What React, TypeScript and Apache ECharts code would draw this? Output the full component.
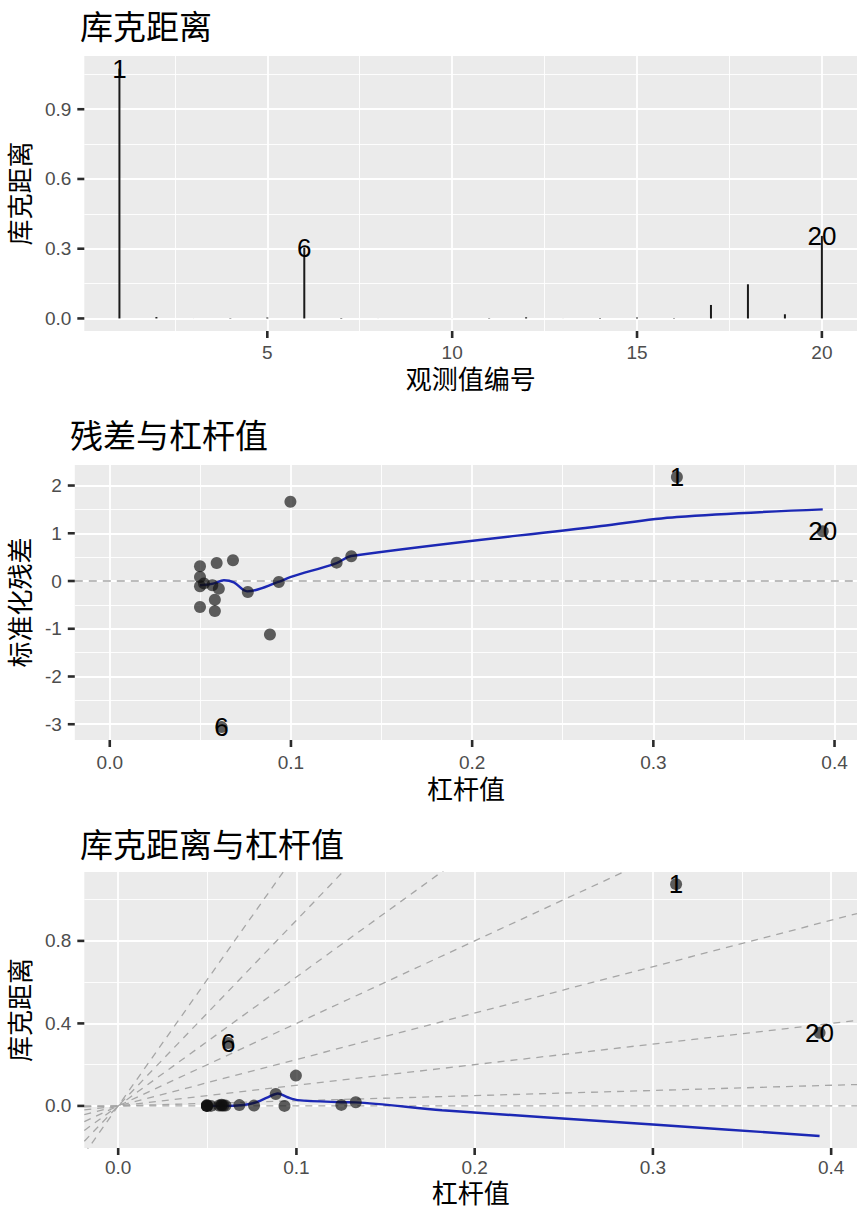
import React, { useEffect, useRef } from "react";
import * as echarts from "echarts";

// ---------- data ----------
const obsIds = [1, 2, 3, 4, 5, 6, 7, 8, 9, 10, 11, 12, 13, 14, 15, 16, 17, 18, 19, 20];
const cooksD = [1.075, 0.006, 0.0002, 0.0015, 0.004, 0.305, 0.002, 0.0002, 0.0001, 0.0002, 0.0015, 0.005, 0.0002, 0.002, 0.004, 0.0015, 0.058, 0.147, 0.018, 0.355];
const leverage = [0.313, 0.058, 0.0498, 0.0566, 0.0498, 0.0617, 0.059, 0.0498, 0.0933, 0.0498, 0.0602, 0.1252, 0.052, 0.058, 0.068, 0.0762, 0.0884, 0.0997, 0.1333, 0.3935];
const stdResid = [2.18, -0.63, 0.084, -0.09, -0.545, -3.06, 0.377, -0.11, -0.02, 0.308, -0.16, 0.385, -0.05, -0.39, 0.434, -0.23, -1.12, 1.66, 0.518, 1.04];
const labeledObs = [1, 6, 20];

// loess smoother of residuals vs leverage
const resSmoothX = [0.0498, 0.0571, 0.0630, 0.0685, 0.0758, 0.0931, 0.0996, 0.1252, 0.1333, 0.2713, 0.313, 0.3935];
const resSmoothY = [-0.09, -0.055, 0.015, -0.03, -0.216, -0.02, 0.08, 0.377, 0.524, 1.153, 1.34, 1.5];
// loess smoother of Cook's distance vs leverage
const cookSmoothX = [0.0498, 0.0607, 0.0687, 0.0765, 0.0835, 0.0896, 0.0950, 0.1007, 0.1252, 0.1333, 0.1817, 0.3, 0.3935];
const cookSmoothY = [0.0, 0.0, 0.003, 0.015, 0.04, 0.06, 0.042, 0.028, 0.018, 0.017, -0.021, -0.09, -0.146];
// Cook's contour slopes (dashed reference lines through origin)
const contourSlopes = [0, 0.25, 1, 2.25, 4, 6.25, 9, 12.25];

// tick labels
const p1XTicks = [5, 10, 15, 20];
const p1XMinor = [2.5, 7.5, 12.5, 17.5];
const p1YTicks = [0, 0.3, 0.6, 0.9];
const p1YMinor = [0.15, 0.45, 0.75, 1.05];
const levTicks = [0, 0.1, 0.2, 0.3, 0.4];
const levMinor = [0.05, 0.15, 0.25, 0.35];
const p2YTicks = [-3, -2, -1, 0, 1, 2];
const p2YMinor = [-2.5, -1.5, -0.5, 0.5, 1.5];
const p3YTicks = [0, 0.4, 0.8];
const p3YMinor = [0.2, 0.6, 1.0];

const FONT = '"Liberation Sans", "Noto Sans CJK SC", sans-serif';

function gridLines(gi: number, xMajor: number[], xMinor: number[], yMajor: number[], yMinor: number[], anchor: number[]) {
  const mk = (vals: number[], key: string, width: number) =>
    vals.map((v) => ({ [key]: v, lineStyle: { width, color: "#ffffff", type: "solid" } }));
  return {
    type: "line",
    xAxisIndex: gi,
    yAxisIndex: gi,
    data: [anchor],
    symbol: "none",
    lineStyle: { opacity: 0 },
    silent: true,
    z: 1,
    markLine: {
      z: 1,
      silent: true,
      symbol: ["none", "none"],
      label: { show: false },
      emphasis: { disabled: true },
      data: [
        ...mk(xMinor, "xAxis", 0.9),
        ...mk(yMinor, "yAxis", 0.9),
        ...mk(xMajor, "xAxis", 1.8),
        ...mk(yMajor, "yAxis", 1.8),
      ],
    },
  };
}

function xAxisCfg(gi: number, min: number, max: number, ticks: number[], fmt: (v: number) => string, name: string, nameGap: number, margin: number) {
  return {
    type: "value",
    gridIndex: gi,
    min,
    max,
    splitLine: { show: false },
    axisLine: { show: false },
    axisTick: { show: false },
    axisLabel: { customValues: ticks, formatter: fmt, color: "#4D4D4D", fontSize: 19, fontFamily: FONT, margin },
    name,
    nameLocation: "middle",
    nameGap,
    nameTextStyle: { fontSize: 26, color: "#000000", fontFamily: FONT },
  };
}

function yAxisCfg(gi: number, min: number, max: number, ticks: number[], fmt: (v: number) => string, name: string, nameGap: number) {
  return {
    type: "value",
    gridIndex: gi,
    min,
    max,
    splitLine: { show: false },
    axisLine: { show: false },
    axisTick: { show: false },
    axisLabel: { customValues: ticks, formatter: fmt, color: "#4D4D4D", fontSize: 19, fontFamily: FONT, margin: 13 },
    name,
    nameLocation: "middle",
    nameGap,
    nameTextStyle: { fontSize: 26, color: "#000000", fontFamily: FONT },
  };
}

const pointStyle = { color: "rgba(15,15,15,0.82)" };
const labelText = {
  show: true,
  position: "inside",
  formatter: "{b}",
  fontSize: 26,
  color: "#000000",
  opacity: 1,
  textBorderWidth: 0,
  fontFamily: FONT,
};
const blue = "#1c28b4";

export default function App() {
  const ref = useRef<HTMLDivElement>(null);

  useEffect(() => {
    document.body.style.margin = "0";
    if (!ref.current) return;
    const chart = echarts.init(ref.current, null, { renderer: "svg" });

    const x1 = [0.05, 20.95];
    const y1 = [-0.054, 1.129];
    const x2 = [-0.0193, 0.4124];
    const y2 = [-3.33, 2.43];
    const x3 = [-0.019, 0.4145];
    const y3 = [-0.204, 1.134];

    const fmt1 = (v: number) => v.toFixed(1);
    const fmt0 = (v: number) => String(Math.round(v));

    const titleStyle = { fontSize: 33, fontWeight: "normal", color: "#000000", fontFamily: FONT };

    const points2 = obsIds.map((id, i) => [leverage[i], stdResid[i]]);
    const points3 = obsIds.map((id, i) => [leverage[i], cooksD[i]]);
    const labels1 = labeledObs.map((id) => ({ name: String(id), value: [id, cooksD[id - 1]] }));
    const labels2 = labeledObs.map((id) => ({ name: String(id), value: [leverage[id - 1], stdResid[id - 1]] }));
    const labels3 = labeledObs.map((id) => ({ name: String(id), value: [leverage[id - 1], cooksD[id - 1]] }));

    const contourSeries = contourSlopes.map((s) => ({
      type: "line",
      xAxisIndex: 2,
      yAxisIndex: 2,
      data: [
        [x3[0], s * x3[0]],
        [x3[1], s * x3[1]],
      ],
      symbol: "none",
      silent: true,
      clip: true,
      lineStyle: { color: "#a6a6a6", width: 1.3, type: [7, 6] },
      z: 2,
    }));

    chart.setOption({
      animation: false,
      backgroundColor: "#ffffff",
      title: [
        { text: "库克距离", left: 80, top: 11, padding: 0, textStyle: titleStyle },
        { text: "残差与杠杆值", left: 70, top: 420, padding: 0, textStyle: titleStyle },
        { text: "库克距离与杠杆值", left: 80, top: 829, padding: 0, textStyle: titleStyle },
      ],
      grid: [
        { left: 81, top: 56, width: 776, height: 275, show: true, backgroundColor: "#EBEBEB", borderWidth: 0 },
        { left: 70, top: 465, width: 787, height: 275, show: true, backgroundColor: "#EBEBEB", borderWidth: 0 },
        { left: 81, top: 872, width: 776, height: 276, show: true, backgroundColor: "#EBEBEB", borderWidth: 0 },
      ],
      xAxis: [
        xAxisCfg(0, x1[0], x1[1], p1XTicks, fmt0, "观测值编号", 36, 12),
        xAxisCfg(1, x2[0], x2[1], levTicks, fmt1, "杠杆值", 37, 13),
        xAxisCfg(2, x3[0], x3[1], levTicks, fmt1, "杠杆值", 33, 10),
      ],
      yAxis: [
        yAxisCfg(0, y1[0], y1[1], p1YTicks, fmt1, "库克距离", 50),
        yAxisCfg(1, y2[0], y2[1], p2YTicks, fmt0, "标准化残差", 39),
        yAxisCfg(2, y3[0], y3[1], p3YTicks, fmt1, "库克距离", 50),
      ],
      series: [
        gridLines(0, p1XTicks, p1XMinor, p1YTicks, p1YMinor, [1, 0]),
        gridLines(1, levTicks, levMinor, p2YTicks, p2YMinor, [0.1, 0]),
        gridLines(2, levTicks, levMinor, p3YTicks, p3YMinor, [0.1, 0]),
        // panel 1: Cook's distance segments
        {
          type: "custom",
          xAxisIndex: 0,
          yAxisIndex: 0,
          data: obsIds.map((id, i) => [id, cooksD[i]]),
          silent: true,
          z: 3,
          renderItem: (params: any, api: any) => {
            const p0 = api.coord([api.value(0), 0]);
            const p1 = api.coord([api.value(0), api.value(1)]);
            return {
              type: "line",
              shape: { x1: p0[0], y1: p0[1], x2: p1[0], y2: p1[1] },
              style: { stroke: "#1a1a1a", lineWidth: 2 },
            };
          },
        },
        {
          type: "scatter",
          xAxisIndex: 0,
          yAxisIndex: 0,
          data: labels1,
          symbolSize: 0.1,
          itemStyle: { color: "rgba(0,0,0,0)" },
          label: labelText,
          silent: true,
          z: 5,
        },
        // panel 2: residuals vs leverage
        {
          type: "line",
          xAxisIndex: 1,
          yAxisIndex: 1,
          data: [
            [x2[0], 0],
            [x2[1], 0],
          ],
          symbol: "none",
          silent: true,
          lineStyle: { color: "#a6a6a6", width: 1.3, type: [8, 6] },
          z: 2,
        },
        {
          type: "scatter",
          xAxisIndex: 1,
          yAxisIndex: 1,
          data: points2,
          symbolSize: 12,
          itemStyle: pointStyle,
          silent: true,
          z: 4,
        },
        {
          type: "line",
          xAxisIndex: 1,
          yAxisIndex: 1,
          data: resSmoothX.map((x, i) => [x, resSmoothY[i]]),
          symbol: "none",
          smooth: 0.35,
          silent: true,
          lineStyle: { color: blue, width: 2.4 },
          z: 3,
        },
        {
          type: "scatter",
          xAxisIndex: 1,
          yAxisIndex: 1,
          data: labels2,
          symbolSize: 0.1,
          itemStyle: { color: "rgba(0,0,0,0)" },
          label: labelText,
          silent: true,
          z: 5,
        },
        // panel 3: Cook's distance vs leverage
        ...contourSeries,
        {
          type: "scatter",
          xAxisIndex: 2,
          yAxisIndex: 2,
          data: points3,
          symbolSize: 12,
          itemStyle: pointStyle,
          silent: true,
          z: 4,
        },
        {
          type: "line",
          xAxisIndex: 2,
          yAxisIndex: 2,
          data: cookSmoothX.map((x, i) => [x, cookSmoothY[i]]),
          symbol: "none",
          smooth: 0.3,
          silent: true,
          lineStyle: { color: blue, width: 2.4 },
          z: 3,
        },
        {
          type: "scatter",
          xAxisIndex: 2,
          yAxisIndex: 2,
          data: labels3,
          symbolSize: 0.1,
          itemStyle: { color: "rgba(0,0,0,0)" },
          label: labelText,
          silent: true,
          z: 5,
        },
      ],
    });

    // axis tick marks, positioned through the chart's own scales
    const tickDefs = [
      { gi: 0, ticks: p1XTicks, dir: "x", edge: y1[0] },
      { gi: 0, ticks: p1YTicks, dir: "y", edge: x1[0] },
      { gi: 1, ticks: levTicks, dir: "x", edge: y2[0] },
      { gi: 1, ticks: p2YTicks, dir: "y", edge: x2[0] },
      { gi: 2, ticks: levTicks, dir: "x", edge: y3[0] },
      { gi: 2, ticks: p3YTicks, dir: "y", edge: x3[0] },
    ];
    const tickGraphics: any[] = [];
    tickDefs.forEach((d) => {
      d.ticks.forEach((v) => {
        const p = chart.convertToPixel({ gridIndex: d.gi }, d.dir === "x" ? [v, d.edge] : [d.edge, v]) as number[];
        if (!p) return;
        const shape =
          d.dir === "x"
            ? { x1: p[0], y1: p[1], x2: p[0], y2: p[1] + 7 }
            : { x1: p[0], y1: p[1], x2: p[0] - 7, y2: p[1] };
        tickGraphics.push({ type: "line", shape, style: { stroke: "#2b2b2b", lineWidth: 2.6 }, silent: true, z: 10 });
      });
    });
    chart.setOption({ graphic: tickGraphics });

    return () => chart.dispose();
  }, []);

  return <div ref={ref} style={{ width: 864, height: 1210 }} />;
}
